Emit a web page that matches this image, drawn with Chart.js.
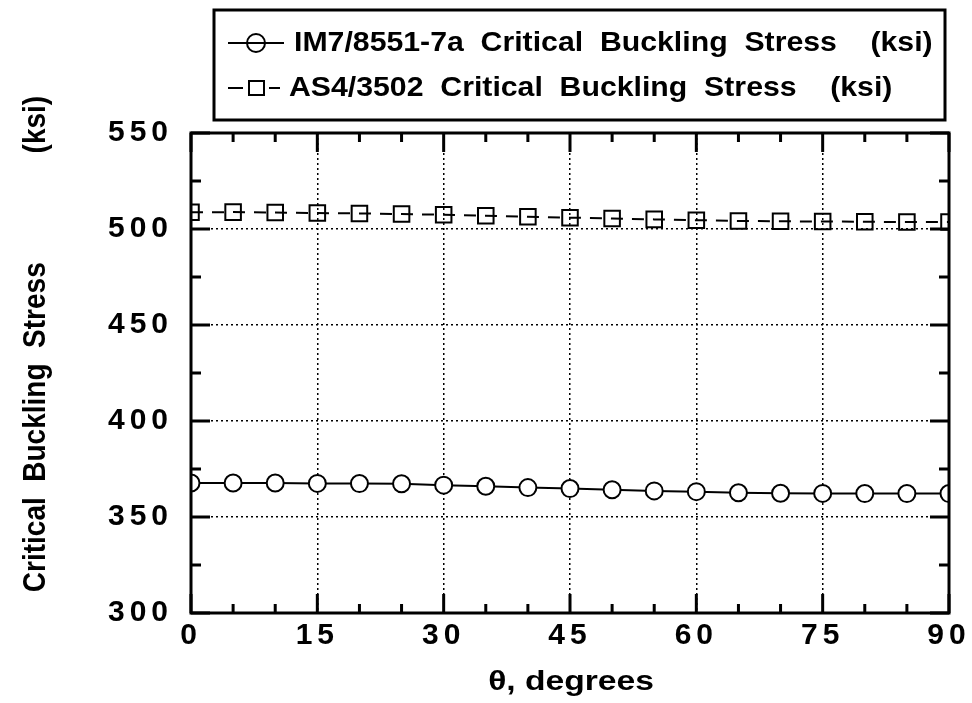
<!DOCTYPE html>
<html>
<head>
<meta charset="utf-8">
<script src="https://cdn.jsdelivr.net/npm/chart.js@4.4.1/dist/chart.umd.min.js"></script>
<style>
  html, body { margin: 0; padding: 0; background: #fff; }
  #wrap { width: 972px; height: 703px; }
</style>
</head>
<body>
<div id="wrap"><canvas id="buckleChart" width="972" height="703"></canvas></div>
<script>
// ply angle theta (degrees)
const angles = [0, 5, 10, 15, 20, 25, 30, 35, 40, 45, 50, 55, 60, 65, 70, 75, 80, 85, 90];
// critical buckling stress (ksi)
const im7Stress = [367.7, 367.7, 367.7, 367.5, 367.4, 367.3, 366.6, 366.0, 365.3, 364.8, 364.2, 363.6, 363.2, 362.6, 362.4, 362.3, 362.2, 362.2, 362.2];
const as4Stress = [508.7, 508.8, 508.6, 508.3, 508.1, 507.8, 507.4, 506.9, 506.4, 505.9, 505.5, 505.0, 504.6, 504.2, 504.0, 503.9, 503.8, 503.6, 503.6];
const seriesLabels = [
  "IM7/8551-7a  Critical  Buckling  Stress    (ksi)",
  "AS4/3502  Critical  Buckling  Stress    (ksi)"
];
const xTickValues = [0, 15, 30, 45, 60, 75, 90];
const yTickValues = [300, 350, 400, 450, 500, 550];
const xMinorTicks = [0, 5, 10, 15, 20, 25, 30, 35, 40, 45, 50, 55, 60, 65, 70, 75, 80, 85, 90];
const yMinorTicks = [300, 325, 350, 375, 400, 425, 450, 475, 500, 525, 550];
const xTitle = "\u03B8, degrees";
const yTitle = "Critical  Buckling  Stress              (ksi)";

const FONT = "'Liberation Sans', Arial, Helvetica, sans-serif";
const STRETCH = 1.15; // the scanned text is a bit wider than it is tall

// frame, inward ticks, axis titles and legend box
const decorPlugin = {
  id: "decor",
  beforeDraw(chart) {
    chart.ctx.letterSpacing = "5px";
  },
  beforeDatasetsDraw(chart) {
    chart.ctx.letterSpacing = "0px";
  },
  afterDraw(chart) {
    const { ctx, chartArea: a, scales: { x, y } } = chart;
    ctx.save();
    ctx.letterSpacing = "0px";
    ctx.strokeStyle = "#000";
    ctx.fillStyle = "#000";

    // inward ticks
    ctx.lineWidth = 3;
    ctx.beginPath();
    xMinorTicks.forEach(v => {
      const px = x.getPixelForValue(v);
      const len = v % 15 === 0 ? 19 : 9;
      ctx.moveTo(px, a.bottom); ctx.lineTo(px, a.bottom - len);
      ctx.moveTo(px, a.top); ctx.lineTo(px, a.top + len);
    });
    yMinorTicks.forEach(v => {
      const py = y.getPixelForValue(v);
      const len = v % 50 === 0 ? 19 : 10;
      ctx.moveTo(a.left, py); ctx.lineTo(a.left + len, py);
      ctx.moveTo(a.right, py); ctx.lineTo(a.right - len, py);
    });
    ctx.stroke();

    // frame
    ctx.lineWidth = 3;
    ctx.strokeRect(a.left, a.top, a.right - a.left, a.bottom - a.top);

    // axis titles
    ctx.font = "bold 28px " + FONT;
    ctx.textAlign = "center";
    ctx.textBaseline = "middle";
    ctx.save();
    ctx.translate(571, 682);
    ctx.scale(STRETCH + 0.05, 1);
    ctx.fillText(xTitle, 0, 0);
    ctx.restore();
    ctx.save();
    ctx.translate(36, 344);
    ctx.rotate(-Math.PI / 2);
    ctx.scale(1, STRETCH);
    ctx.fillText(yTitle, 0, 0);
    ctx.restore();

    // legend
    const ds = chart.data.datasets;
    ctx.lineWidth = 3;
    ctx.strokeRect(214, 10, 731, 110);
    const rows = [43, 88];
    ctx.font = "bold 27px " + FONT;
    ctx.textAlign = "left";
    rows.forEach((ry, i) => {
      const d = ds[i];
      ctx.lineWidth = 2;
      ctx.setLineDash(i === 0 ? [] : [15, 26]);
      ctx.beginPath();
      ctx.moveTo(228, ry); ctx.lineTo(i === 0 ? 284 : 280, ry);
      ctx.stroke();
      ctx.setLineDash([]);
      if (i === 0) {
        ctx.beginPath();
        ctx.arc(256, ry, 9, 0, Math.PI * 2);
        ctx.fillStyle = "#fff"; ctx.fill();
        ctx.fillStyle = "#000"; ctx.stroke();
        ctx.beginPath();
        ctx.moveTo(247, ry); ctx.lineTo(265, ry);
        ctx.stroke();
      } else {
        ctx.strokeRect(249, ry - 7, 15, 14);
      }
      ctx.save();
      ctx.translate(i === 0 ? 294 : 289, ry + 1);
      ctx.scale(STRETCH - 0.03, 1);
      ctx.fillText(d.label, 0, 0);
      ctx.restore();
    });
    ctx.restore();
  }
};

const ctx = document.getElementById("buckleChart").getContext("2d");

new Chart(ctx, {
  type: "line",
  data: {
    datasets: [
      {
        label: seriesLabels[0],
        data: angles.map((a, i) => ({ x: a, y: im7Stress[i] })),
        borderColor: "#000",
        borderWidth: 2,
        pointStyle: "circle",
        pointRadius: 8.5,
        pointBorderWidth: 2,
        pointBorderColor: "#000",
        pointBackgroundColor: "#fff",
        tension: 0
      },
      {
        label: seriesLabels[1],
        data: angles.map((a, i) => ({ x: a, y: as4Stress[i] })),
        borderColor: "#000",
        borderWidth: 2,
        borderDash: [12, 9],
        pointStyle: "rect",
        pointRadius: 11,
        pointBorderWidth: 2,
        pointBorderColor: "#000",
        pointBackgroundColor: "rgba(255,255,255,0)",
        tension: 0
      }
    ]
  },
  options: {
    responsive: false,
    animation: false,
    devicePixelRatio: 1,
    layout: { padding: { left: 80, top: 133, right: 23, bottom: 50 } },
    plugins: {
      legend: { display: false },
      tooltip: { enabled: false }
    },
    scales: {
      x: {
        type: "linear",
        min: 0,
        max: 90,
        afterBuildTicks: s => { s.ticks = xTickValues.map(v => ({ value: v })); },
        afterFit: s => { s.height = 40; },
        ticks: {
          color: "#000",
          font: { family: FONT, size: 30, weight: "bold" },
          padding: 5,
          maxRotation: 0,
          minRotation: 0,
          autoSkip: false
        },
        grid: { color: "#000", lineWidth: 1.5, drawTicks: false },
        border: { display: false, dash: [2, 3] }
      },
      y: {
        type: "linear",
        min: 300,
        max: 550,
        afterBuildTicks: s => { s.ticks = yTickValues.map(v => ({ value: v })); },
        afterFit: s => { s.width = 111; },
        ticks: {
          color: "#000",
          font: { family: FONT, size: 30, weight: "bold" },
          padding: 18
        },
        grid: { color: "#000", lineWidth: 1.5, drawTicks: false },
        border: { display: false, dash: [2, 3] }
      }
    }
  },
  plugins: [decorPlugin]
});
</script>
</body>
</html>
